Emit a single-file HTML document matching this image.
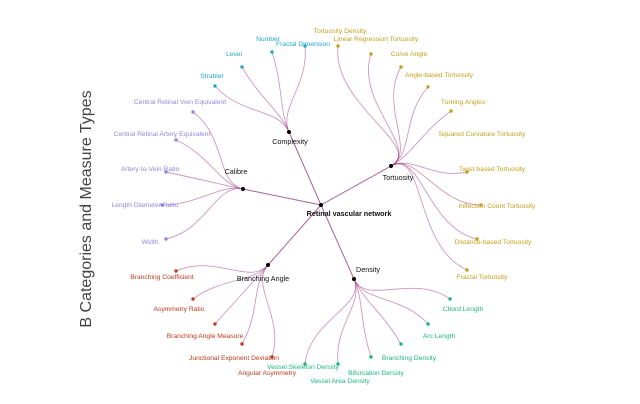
<!DOCTYPE html>
<html><head><meta charset="utf-8"><style>
html,body{margin:0;padding:0;background:#fff;}
svg{display:block;font-family:"Liberation Sans",sans-serif;}
</style></head><body>
<svg id="s" width="640" height="404" viewBox="0 0 640 404" xmlns="http://www.w3.org/2000/svg">
<text x="0" y="0" transform="translate(91,209) rotate(-90)" text-anchor="middle" font-size="16" fill="#444">B  Categories and Measure Types</text>
<g id="edges"></g><g id="labels" font-size="6.7"></g>
</svg>
<script>
var R=[321,205];
var cats=[
 {n:[289,132],lab:"Complexity",lp:[290,144],col:"#1fa7c9",leaves:[
  [215,86,"Strahler",212,78],[242,67,"Level",234,56],[272,52,"Number",268,41],[305,46,"Fractal Dimension",303,46]]},
 {n:[243,189],lab:"Calibre",lp:[236,174],col:"#9686dd",leaves:[
  [193,112,"Central Retinal Vein Equivalent",180,104],[176,140,"Central Retinal Artery Equivalent",162,136],
  [166,172,"Artery-to-Vein Ratio",150,171],[162,205,"Length Diameter Ratio",145,207],[166,239,"Width",150,244]]},
 {n:[391,166],lab:"Tortuosity",lp:[398,180],col:"#c4a01c",leaves:[
  [338,46,"Linear Regression Tortuosity",376,41],[371,54,"Curve Angle",409,56],[401,67,"Angle-based Tortuosity",439,77],
  [428,87,"Turning Angles",463,104],[451,111,"Squared Curvature Tortuosity",482,136],[467,172,"Twist-based Tortuosity",492,171],
  [481,205,"Inflection Count Tortuosity",497,208],[477,239,"Distance-based Tortuosity",493,244],[467,270,"Fractal Tortuosity",482,279]]},
 {n:[268,265],lab:"Branching Angle",lp:[263,281],col:"#c0391b",leaves:[
  [176,271,"Branching Coefficient",162,279],[193,299,"Asymmetry Ratio",179,311],[215,324,"Branching Angle Measure",205,338],
  [242,344,"Junctional Exponent Deviation",234,360],[272,357,"Angular Asymmetry",267,375]]},
 {n:[354,279],lab:"Density",lp:[368,272],col:"#1cb67c",leaves:[
  [450,299,"Chord Length",463,311],[428,324,"Arc Length",439,338],[401,344,"Branching Density",409,360],
  [371,357,"Bifurcation Density",376,375],[338,364,"Vessel Area Density",340,383],[305,364,"Vessel Skeleton Density",303,369]]}
];
var E=document.getElementById("edges"),L=document.getElementById("labels"),NS="http://www.w3.org/2000/svg";
function el(t,a,p){var e=document.createElementNS(NS,t);for(var k in a)e.setAttribute(k,a[k]);p.appendChild(e);return e;}
function txt(x,y,s,c,p,fs,w){var t=el("text",{x:x,y:y,"text-anchor":"middle",fill:c,"font-size":fs||6.7},p);if(w)t.setAttribute("font-weight",w);t.textContent=s;}
cats.forEach(function(c){
 el("line",{x1:R[0],y1:R[1],x2:c.n[0],y2:c.n[1],stroke:"#8e2f73","stroke-width":1,opacity:0.75},E);
 var dx=c.n[0]-R[0],dy=c.n[1]-R[1],d=Math.hypot(dx,dy);dx/=d;dy/=d;
 c.leaves.forEach(function(l){
  var dist=Math.hypot(l[0]-c.n[0],l[1]-c.n[1]);
  var lx=l[0]-R[0],ly=l[1]-R[1],ld=Math.hypot(lx,ly);lx/=ld;ly/=ld;
  var c1x=c.n[0]+dx*dist*0.3,c1y=c.n[1]+dy*dist*0.3;
  var c2x=l[0]-lx*dist*0.45,c2y=l[1]-ly*dist*0.45;
  el("path",{d:"M"+c.n[0]+" "+c.n[1]+" C"+c1x+" "+c1y+" "+c2x+" "+c2y+" "+l[0]+" "+l[1],fill:"none",stroke:"#a1327f","stroke-width":0.9,opacity:0.5},E);
  el("circle",{cx:l[0],cy:l[1],r:1.7,fill:c.col},E);
  txt(l[3],l[4],l[2],c.col,L);
 });
 el("circle",{cx:c.n[0],cy:c.n[1],r:2,fill:"#000"},E);
 txt(c.lp[0],c.lp[1],c.lab,"#111",L,7.2);
});
el("circle",{cx:R[0],cy:R[1],r:2,fill:"#000"},E);
txt(349,216,"Retinal vascular network","#111",L,7.2,"bold");
txt(340,33,"Tortuosity Density","#c4a01c",L);
</script>
</body></html>
